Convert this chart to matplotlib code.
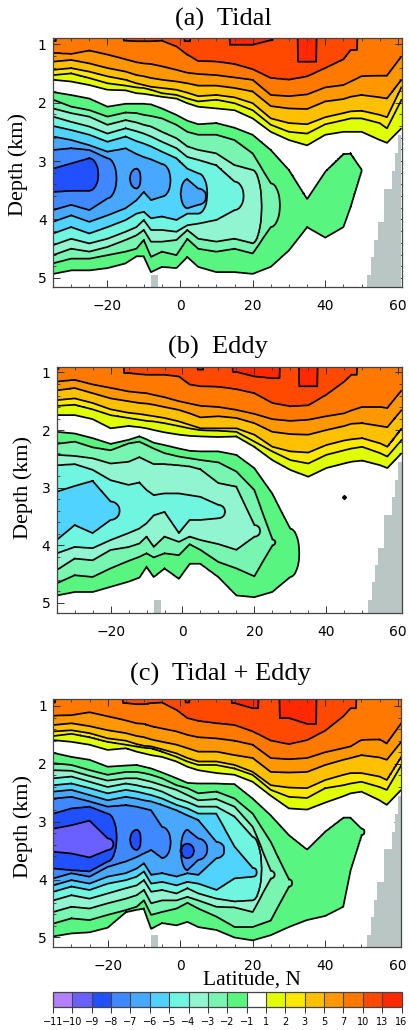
import matplotlib
matplotlib.use("Agg")
import matplotlib.pyplot as plt
import numpy as np
from matplotlib.cm import ScalarMappable
from matplotlib.colors import BoundaryNorm, ListedColormap
from matplotlib.ticker import MultipleLocator

n = np.nan

lats = [-35, -30, -25, -20, -15, -12, -10, -8, -5, -1, 2, 5, 10, 15, 20, 25, 30, 35, 40, 45, 47, 50, 55, 57, 61]

# contour levels and their colours
levels = [-11, -10, -9, -8, -7, -6, -5, -4, -3, -2, -1, 1, 2, 3, 5, 7, 10, 13, 16]
colors = ["#B080FF", "#6A60FF", "#2050FF", "#4088FF", "#48A8FF", "#50D4FF", "#70F5E0", "#90F5D0", "#78F5B0",
          "#58F580", "#FFFFFF", "#E0FF00", "#FFE800", "#FFC000", "#FF9800", "#FF7800", "#FF4800", "#FF2800"]
pos_levels = [13, 10, 7, 5, 3, 2, 1]
neg_levels = [-1, -2, -3, -4, -5, -6, -7, -8, -9]

# (a) depth (km) of each positive contour, per latitude
tidal_pos = [
    [n, n, n, n, n, n, n, n, n, n, .95, n, n, 1.01, 1.01, .93, n, 1.30],
    [.95, n, n, n, .94, .95, .95, .95, .94, 1.04, 1.18, 1.29, 1.30, 1.34, 1.43, 1.58, 1.61, 1.55, 1.41, 1.26, 1.10],
    [1.15, 1.17, 1.11, 1.18, 1.26, 1.31, 1.33, 1.34, 1.38, 1.44, 1.49, 1.51, 1.53, 1.57, 1.61, 1.87, 1.89, 1.86, 1.74, 1.70, 1.64, 1.55, 1.54, 1.54, 1.21],
    [1.30, 1.27, 1.33, 1.41, 1.47, 1.53, 1.55, 1.58, 1.61, 1.64, 1.67, 1.71, 1.71, 1.75, 1.81, 2.06, 2.10, 2.11, 1.98, 1.94, 1.90, 1.87, 1.91, 1.93, 1.61],
    [1.44, 1.41, 1.47, 1.55, 1.61, 1.67, 1.70, 1.73, 1.75, 1.78, 1.83, 1.89, 1.87, 1.91, 2.01, 2.27, 2.35, 2.37, 2.25, 2.18, 2.15, 2.14, 2.21, 2.25, 1.73],
    [1.53, 1.50, 1.58, 1.67, 1.71, 1.74, 1.75, 1.78, 1.84, 1.87, 1.93, 1.98, 1.95, 2.01, 2.13, 2.38, 2.50, 2.53, 2.37, 2.30, 2.27, 2.27, 2.35, 2.44, 1.95],
    [1.61, 1.64, 1.70, 1.78, 1.79, 1.84, 1.85, 1.87, 1.90, 1.93, 2.01, 2.07, 2.10, 2.13, 2.27, 2.50, 2.64, 2.73, 2.55, 2.50, 2.50, 2.50, 2.64, 2.69, 2.44],
]
# shallow side of each negative contour
tidal_neg_top = [
    [1.82, 1.87, 1.93, 2.07, 2.02, 2.02, 2.02, 2.03, 2.10, 2.21, 2.31, 2.37, 2.35, 2.43, 2.55, 2.81, 3.15, 3.65, 3.18, 2.88, 2.87, 3.15],
    [1.95, 2.07, 2.13, 2.24, 2.17, 2.18, 2.21, 2.23, 2.27, 2.38, 2.50, 2.55, 2.55, 2.64, 2.87, 3.38],
    [2.10, 2.18, 2.24, 2.38, 2.30, 2.34, 2.38, 2.41, 2.50, 2.61, 2.75, 2.81, 2.87, 3.07, 3.15],
    [2.24, 2.33, 2.41, 2.53, 2.44, 2.49, 2.53, 2.58, 2.67, 2.78, 2.93, 2.98, 3.07, 3.35],
    [2.40, 2.47, 2.55, 2.67, 2.58, 2.66, 2.70, 2.75, 2.84, 2.95, 3.13, 3.21],
    [2.58, 2.64, 2.73, 2.84, 2.78, 2.88, 2.93, 2.97, 3.05, n, 3.31, 3.47],
    [2.81, 2.78, 2.81, 2.95, n, 3.13],
    [3.13, 3.04, 2.95],
]
# deep side of each negative contour
tidal_neg_bot = [
    [4.93, 4.87, 4.87, 4.83, 4.75, 4.63, 4.63, 4.90, 4.81, 4.83, 4.64, 4.81, 4.90, 4.90, 4.93, 4.81, 4.53, 4.13, 4.31, 4.13, 3.78, 3.15],
    [4.75, 4.67, 4.67, 4.61, 4.55, 4.50, 4.35, 4.64, 4.55, 4.61, 4.33, 4.50, 4.55, 4.50, 4.58, 4.13],
    [4.61, 4.50, 4.55, 4.47, 4.35, 4.27, 4.18, 4.38, 4.38, 4.35, 4.18, 4.33, 4.38, 4.33, 4.41],
    [4.44, 4.33, 4.41, 4.33, 4.21, 4.13, 4.01, 4.18, 4.18, 4.21, 4.10, 4.07, 4.01, 3.84],
    [4.24, 4.13, 4.24, 4.13, 4.01, 3.90, 3.87, 3.98, 3.95, 4.01, 3.90, 3.90],
    [4.04, 3.93, 4.04, 3.93, 3.81, 3.67, 3.53, 3.67, 3.61, n, 3.81, 3.75],
    [3.84, 3.75, 3.84, 3.64, n, 3.47],
    [3.53, 3.51, 3.51],
]

# (b)
eddy_pos = [
    [n, n, n, n, n, n, n, n, n, n, n, .95, n, .99, 1.07, 1.10, n, 1.24],
    [.94, n, n, n, 1.01, 1.03, 1.04, 1.04, 1.04, 1.07, 1.21, 1.24, 1.25, 1.29, 1.36, 1.53, 1.59, 1.57, 1.39, 1.16, 1.04],
    [1.16, 1.13, 1.21, 1.27, 1.33, 1.35, 1.36, 1.39, 1.43, 1.50, 1.54, 1.58, 1.60, 1.65, 1.72, 1.81, 1.84, 1.82, 1.76, 1.71, 1.66, 1.60, 1.60, 1.62, 1.31],
    [1.31, 1.27, 1.36, 1.45, 1.50, 1.53, 1.54, 1.56, 1.60, 1.65, 1.71, 1.78, 1.76, 1.79, 1.88, 2.03, 2.07, 2.08, 2.00, 1.93, 1.89, 1.88, 1.93, 1.95, 1.65],
    [1.48, 1.45, 1.53, 1.64, 1.70, 1.72, 1.74, 1.76, 1.79, 1.85, 1.91, 1.97, 1.97, 1.97, 2.08, 2.29, 2.37, 2.39, 2.26, 2.18, 2.16, 2.14, 2.23, 2.29, 1.97],
    [1.58, 1.56, 1.64, 1.74, 1.79, 1.82, 1.84, 1.85, 1.88, 1.93, 1.97, 2.00, 2.01, 2.03, 2.20, 2.37, 2.52, 2.58, 2.43, 2.35, 2.32, 2.29, 2.40, 2.46, 2.17],
    [1.74, 1.74, 1.81, 1.97, 1.93, 1.95, 1.97, 2.00, 2.04, 2.08, 2.10, 2.11, 2.12, 2.11, 2.29, 2.52, 2.69, 2.81, 2.66, 2.58, 2.55, 2.53, 2.61, 2.66, 2.40],
]
eddy_neg_top = [
    [2.03, 2.06, 2.14, 2.24, 2.17, 2.11, 2.16, 2.22, 2.26, 2.32, 2.36, 2.37, 2.37, 2.43, 2.66, 3.10, 3.71],
    [2.24, 2.20, 2.30, 2.35, 2.23, 2.20, 2.26, 2.32, 2.40, 2.46, 2.49, 2.52, 2.56, 2.72, 3.04, 3.90],
    [2.43, 2.45, 2.49, 2.58, 2.55, 2.47, 2.53, 2.59, 2.59, 2.61, 2.63, 2.68, 2.92, 2.98, 3.65],
    [2.61, 2.59, 2.69, 2.87, 2.95, 2.91, 3.04, 3.13, 3.10, 3.10, 3.13, 3.16, 3.30],
    [3.07, 2.97, 2.88, 3.24],
]
eddy_neg_bot = [
    [4.87, 4.81, 4.81, 4.72, 4.63, 4.56, 4.37, 4.55, 4.40, 4.58, 4.32, 4.32, 4.55, 4.87, 4.90, 4.81, 4.55],
    [4.66, 4.52, 4.55, 4.40, 4.27, 4.20, 4.14, 4.21, 4.14, 4.17, 3.98, 4.08, 4.29, 4.40, 4.54, 4.00],
    [4.43, 4.23, 4.26, 4.08, 4.03, 3.97, 3.85, 4.03, 3.85, 3.94, 3.85, 3.91, 3.98, 4.08, 3.85],
    [4.14, 4.03, 4.05, 3.91, 3.79, 3.71, 3.62, 3.48, 3.42, 3.79, 3.56, 3.56, 3.53],
    [3.91, 3.65, 3.79, 3.56],
]
# tiny closed contour in the eddy panel
eddy_dot_lat = [45]
eddy_dot_depth = [3.17]

# (c)
both_pos = [
    [n, n, n, n, n, n, n, n, n, n, .94, n, n, .95, 1.04, n, 1.21, 1.31],
    [.94, n, n, n, .95, .97, .97, .95, .94, 1.07, 1.21, 1.26, 1.30, 1.33, 1.44, 1.60, 1.66, 1.59, 1.43, 1.18, 1.04],
    [1.17, 1.16, 1.11, 1.18, 1.25, 1.30, 1.31, 1.35, 1.39, 1.44, 1.50, 1.54, 1.56, 1.60, 1.67, 1.90, 1.92, 1.90, 1.80, 1.73, 1.70, 1.59, 1.58, 1.65, 1.30],
    [1.33, 1.30, 1.35, 1.42, 1.47, 1.52, 1.54, 1.58, 1.62, 1.67, 1.73, 1.79, 1.79, 1.85, 1.90, 2.14, 2.15, 2.14, 2.02, 1.93, 1.90, 1.85, 1.89, 1.93, 1.62],
    [1.44, 1.42, 1.47, 1.56, 1.60, 1.66, 1.69, 1.70, 1.75, 1.82, 1.90, 1.96, 1.96, 2.02, 2.14, 2.37, 2.41, 2.42, 2.28, 2.19, 2.16, 2.16, 2.22, 2.28, 1.88],
    [1.52, 1.48, 1.54, 1.62, 1.67, 1.70, 1.72, 1.73, 1.79, 1.88, 1.96, 2.02, 2.02, 2.08, 2.19, 2.45, 2.57, 2.59, 2.42, 2.37, 2.34, 2.31, 2.40, 2.45, 2.02],
    [1.59, 1.62, 1.67, 1.76, 1.73, 1.79, 1.82, 1.85, 1.88, 1.96, 2.05, 2.11, 2.16, 2.19, 2.31, 2.55, 2.77, 2.79, 2.67, 2.56, 2.51, 2.48, 2.63, 2.71, 2.45],
]
both_neg_top = [
    [1.81, 1.88, 1.93, 2.05, 2.03, 2.02, 2.05, 2.08, 2.15, 2.25, 2.33, 2.34, 2.34, 2.35, 2.60, 2.89, 3.23, 3.48, 3.17, 2.93, 2.93, 3.12],
    [1.99, 2.02, 2.11, 2.19, 2.14, 2.14, 2.16, 2.19, 2.25, 2.37, 2.42, 2.51, 2.48, 2.60, 2.86, 3.35, 4.00],
    [2.11, 2.12, 2.21, 2.29, 2.25, 2.25, 2.28, 2.31, 2.37, 2.45, 2.54, 2.63, 2.61, 2.74, 3.09, 3.85],
    [2.25, 2.22, 2.31, 2.40, 2.34, 2.37, 2.40, 2.42, 2.48, 2.60, 2.66, 2.74, 2.74, 2.91, 3.26],
    [2.37, 2.34, 2.42, 2.51, 2.45, 2.48, 2.51, 2.54, 2.60, 2.71, 2.77, 2.86, 2.86, 3.43, 3.80],
    [2.48, 2.45, 2.54, 2.63, 2.57, 2.60, 2.63, 2.65, 2.71, 2.80, 2.89, 2.97, 3.35],
    [2.60, 2.57, 2.65, 2.74, 2.71, 2.74, 2.77, 2.80, 3.09, n, 3.14, 3.29],
    [2.86, 2.77, 2.74, 2.86, n, 3.14, n, n, n, n, 3.38],
    [3.12, 3.06, 2.98, 3.29],
]
both_neg_bot = [
    [4.98, 4.93, 4.91, 4.83, 4.56, 4.52, 4.50, 4.85, 4.75, 4.79, 4.73, 4.82, 4.87, 5.00, 5.05, 4.96, 4.82, 4.70, 4.63, 4.47, 3.84, 3.23],
    [4.76, 4.67, 4.70, 4.61, 4.53, 4.47, 4.36, 4.61, 4.56, 4.50, 4.40, 4.50, 4.64, 4.82, 4.82, 4.71, 4.12],
    [4.56, 4.47, 4.50, 4.41, 4.33, 4.27, 4.18, 4.41, 4.36, 4.36, 4.30, 4.36, 4.47, 4.48, 4.56, 3.98],
    [4.36, 4.27, 4.33, 4.24, 4.15, 4.10, 4.01, 4.21, 4.18, 4.24, 4.15, 4.24, 4.33, 4.38, 4.36],
    [4.21, 4.12, 4.18, 4.07, 4.01, 3.95, 3.86, 4.07, 4.04, 4.10, 4.04, 4.07, 4.18, 3.98, 3.95],
    [4.10, 4.01, 4.07, 3.95, 3.89, 3.81, 3.72, 3.92, 3.89, 3.95, 3.89, 3.92, 3.63],
    [3.98, 3.89, 3.95, 3.78, 3.69, 3.61, 3.55, 3.49, 3.63, n, 3.84, 3.66],
    [3.81, 3.84, 3.86, 3.69, n, 3.49, n, n, n, n, 3.63],
    [3.52, 3.55, 3.62, 3.49],
]

# sea floor steps (latitude edges, depth of the floor between them)
topo_left = [-8, 51.6, 52.6, 53.5, 54.4, 56.2, 58.3, 59.2, 60.1]
topo_right = [-6.1, 52.6, 53.5, 54.4, 56.2, 58.3, 59.2, 60.1, 61]
topo_depth = [4.95, 4.95, 4.64, 4.35, 4.04, 3.47, 3.17, 2.87, 2.55]

lat_fine = np.arange(-35, 61.01, 0.25)
depth_fine = np.arange(0.85, 5.31, 0.01)


def pad(row):
    return np.array(list(row) + [n] * (len(lats) - len(row)), dtype=float)


# closing cap of a contour past its last column: rounded, or a straight wall
# for the blobs hanging from the top of the panel
def cap(x0, side, a0, b0, gap, wall):
    ext = min(2.5, 0.6 * gap, 8 * (b0 - a0))
    if ext <= 0:
        return []
    pts = []
    for t in (0.25, 0.5, 0.75, 0.9, 1.0):
        if wall:
            pts.append((x0 + side * ext * t, a0, b0))
        else:
            mid = (a0 + b0) / 2
            half = (b0 - a0) / 2 * np.sqrt(1 - t * t)
            pts.append((x0 + side * ext * t, mid - half, mid + half))
    return pts


# carry one contour (shallow edge a, deep edge b) across the fine latitudes
def to_fine(a, b, wall=False):
    xs = np.array(lats, dtype=float)
    out_a = np.full(lat_fine.shape, n)
    out_b = np.full(lat_fine.shape, n)
    i = 0
    while i < len(xs):
        if np.isnan(a[i]):
            i += 1
            continue
        j = i
        while j + 1 < len(xs) and not np.isnan(a[j + 1]):
            j += 1
        pts = [(xs[k], a[k], b[k]) for k in range(i, j + 1)]
        if i > 0:
            pts += cap(xs[i], -1, a[i], b[i], xs[i] - xs[i - 1], wall)
        if j < len(xs) - 1:
            pts += cap(xs[j], 1, a[j], b[j], xs[j + 1] - xs[j], wall)
        pts.sort()
        rx = [p[0] for p in pts]
        mask = (lat_fine >= rx[0]) & (lat_fine <= rx[-1])
        out_a[mask] = np.interp(lat_fine[mask], rx, [p[1] for p in pts])
        out_b[mask] = np.interp(lat_fine[mask], rx, [p[2] for p in pts])
        i = j + 1
    return out_a, out_b


# turn the contour depths into a gridded field the contour routines can use
def build_field(pos, neg_top, neg_bot):
    pos_fine = []
    for k, row in enumerate(pos):
        r = pad(row)
        if k < 2:
            edge = np.where(np.isnan(r), n, 0.85)
            pos_fine.append(to_fine(edge, r, wall=True)[1])
        else:
            pos_fine.append(to_fine(r, r)[0])
    neg_fine = [to_fine(pad(t), pad(b)) for t, b in zip(neg_top, neg_bot)]

    field = np.zeros((len(depth_fine), len(lat_fine)))
    for c in range(len(lat_fine)):
        ds, vs = [], []
        for lev, line in zip(pos_levels, pos_fine):
            if not np.isnan(line[c]):
                ds.append(line[c])
                vs.append(lev)
        top_val = 14.5 if vs[0] == 13 else (11.5 if vs[0] == 10 else 8.5)
        ds.insert(0, 0.80)
        vs.insert(0, top_val)
        present = [k for k in range(len(neg_fine)) if not np.isnan(neg_fine[k][0][c])]
        for k in present:
            ds.append(neg_fine[k][0][c])
            vs.append(neg_levels[k])
        if not present:
            ds += [ds[-1] + 0.15, 5.4]
            vs += [0, 0]
        else:
            deepest = present[-1]
            ds.append((neg_fine[deepest][0][c] + neg_fine[deepest][1][c]) / 2)
            vs.append(neg_levels[deepest] - 0.5)
            for k in present[::-1]:
                ds.append(neg_fine[k][1][c])
                vs.append(neg_levels[k])
            ds.append(5.4)
            vs.append(0)
        ds = np.array(ds)
        vs = np.array(vs, dtype=float)
        order = np.argsort(ds, kind="stable")
        field[:, c] = np.interp(depth_fine, ds[order], vs[order])
    return field


W, H = 409, 1030
fig = plt.figure(figsize=(W / 100, H / 100), dpi=100)
serif = "Liberation Serif"
sans = "DejaVu Sans"


def px_axes(left, right, top, bottom):
    return fig.add_axes([left / W, 1 - bottom / H, (right - left) / W, (bottom - top) / H])


def draw_panel(box, ybot, ytop, pos, neg_top, neg_bot):
    ax = px_axes(*box)
    field = build_field(pos, neg_top, neg_bot)
    ax.contourf(lat_fine, depth_fine, field, levels=levels, colors=colors)
    ax.contour(lat_fine, depth_fine, field, levels=[v for v in levels if v not in (-11, 16)],
               colors="black", linewidths=1.25, linestyles="solid")
    for l, r, d in zip(topo_left, topo_right, topo_depth):
        ax.bar(l, 5.4 - d, width=r - l, bottom=d, align="edge", color="#B9C6C4", zorder=3)
    ax.set_xlim(-35, 61)
    ax.set_ylim(ybot, ytop)
    ax.xaxis.set_major_locator(MultipleLocator(20))
    ax.xaxis.set_minor_locator(MultipleLocator(5))
    ax.yaxis.set_major_locator(MultipleLocator(1))
    ax.yaxis.set_minor_locator(MultipleLocator(0.2))
    ax.tick_params(which="major", direction="in", top=True, right=True, length=5, width=0.7, color="#333333")
    ax.tick_params(which="minor", direction="in", top=True, right=True, length=2.5, width=0.6, color="#333333")
    ax.tick_params(axis="x", which="major", pad=8.5)
    ax.tick_params(axis="y", which="major", pad=4.5)
    ax.set_xticks([-20, 0, 20, 40, 60])
    ax.set_xticklabels(["\u221220", "0", "20", "40", "60"], family=sans, fontsize=10)
    ax.set_yticks([1, 2, 3, 4, 5])
    ax.set_yticklabels(["1", "2", "3", "4", "5"], family=sans, fontsize=10)
    for s in ax.spines.values():
        s.set_linewidth(0.9)
        s.set_color("#444444")
        s.set_zorder(6)
    return ax


draw_panel((53, 401.5, 38.3, 286.7), 5.15, 0.9, tidal_pos, tidal_neg_top, tidal_neg_bot)
ax_b = draw_panel((56.7, 401.7, 366.7, 612.7), 5.17, 0.9, eddy_pos, eddy_neg_top, eddy_neg_bot)
ax_b.plot(eddy_dot_lat, eddy_dot_depth, marker="D", ms=2, color="black", ls="none")
draw_panel((53.3, 401.3, 699.3, 946.7), 5.16, 0.885, both_pos, both_neg_top, both_neg_bot)

# titles and labels
for txt, x, y in [("(a)  Tidal", 223, 19), ("(b)  Eddy", 218, 347), ("(c)  Tidal + Eddy", 220, 674)]:
    fig.text(x / W, 1 - y / H, txt, family=serif, fontsize=19, ha="center", va="center")
for x, y in [(18, 165), (23, 488), (23, 827)]:
    fig.text(x / W, 1 - y / H, "Depth (km)", family=serif, fontsize=16, rotation=90, ha="center", va="center")
fig.text(252 / W, 1 - 980 / H, "Latitude, N", family=serif, fontsize=15.5, ha="center", va="center")

# colour bar
cax = px_axes(53, 401.5, 992, 1007)
cmap = ListedColormap(colors)
norm = BoundaryNorm(levels, cmap.N)
cb = fig.colorbar(ScalarMappable(norm=norm, cmap=cmap), cax=cax, orientation="horizontal",
                  spacing="uniform", ticks=levels, drawedges=True)
cb.dividers.set_color("#444444")
cb.dividers.set_linewidth(0.8)
cb.outline.set_edgecolor("#444444")
cb.outline.set_linewidth(0.9)
cb.minorticks_off()
cax.tick_params(length=4.5, width=0.7, pad=3, color="#333333")
cax.set_xticklabels([str(v).replace("-", "\u2212") for v in levels], family=sans, fontsize=7)

fig.savefig("out.png", dpi=100)
